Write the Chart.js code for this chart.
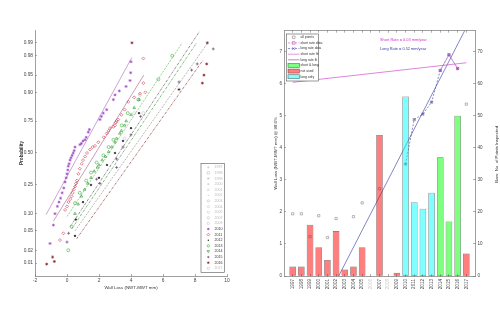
<!DOCTYPE html>
<html><head><meta charset="utf-8">
<script src="https://cdn.jsdelivr.net/npm/chart.js@4.4.1/dist/chart.umd.min.js"></script>
<style>
html,body{margin:0;padding:0;background:#fff;}
#wrap{position:relative;width:500px;height:324px;overflow:hidden;background:#fff}
canvas{position:absolute;top:0}
#cl{left:0}#cr{left:250px}
</style></head><body>
<div id="wrap"><canvas id="cl" width="250" height="324"></canvas><canvas id="cr" width="250" height="324"></canvas></div>
<script>
// ================= DATA: probability plot (left) =================
const probTicks = [0.01,0.02,0.05,0.10,0.25,0.50,0.75,0.90,0.95,0.98,0.99];
const wallTicks = [-2,0,2,4,6,8,10];
const legendYears = ['1997','1998','1999','2000','2001','2002','2003','2004','2005','2007','2009','2010','2011','2012','2013','2014','2015','2016','2017'];

const x2010 = [-1.06,-0.85,-0.75,-0.6,-0.5,-0.4,-0.3,-0.2,-0.12,-0.05,0.0,0.05,0.08,0.13,0.19,0.25,0.32,0.39,0.45,0.5,0.81,0.9,1.0,1.13,1.2,1.33,1.4,2.06,2.15,2.27,2.48,2.9,3.0,3.27,3.69,3.94,3.98,4.0];
const p2010 = [0.028,0.064,0.10,0.13,0.15,0.17,0.20,0.23,0.27,0.30,0.33,0.36,0.39,0.41,0.44,0.46,0.48,0.50,0.52,0.55,0.57,0.58,0.60,0.61,0.63,0.67,0.69,0.76,0.78,0.80,0.82,0.87,0.89,0.905,0.92,0.937,0.955,0.973];
const x2011 = [-0.44,-0.23,-0.12,0.0,0.1,0.2,0.29,0.35,0.42,0.5,0.56,0.62,0.71,0.8,0.92,1.0,1.13,1.25,1.44,1.6,1.75,1.96,2.3,2.48,2.6,2.69,2.9,3.0,3.05,3.1,3.2,3.4,3.6,3.83,4.2,4.56,4.77,4.9,4.77];
const p2011 = [0.033,0.045,0.115,0.13,0.15,0.165,0.18,0.20,0.22,0.24,0.26,0.28,0.33,0.37,0.41,0.44,0.47,0.50,0.53,0.55,0.56,0.59,0.63,0.66,0.68,0.70,0.71,0.72,0.74,0.75,0.76,0.79,0.82,0.86,0.88,0.895,0.93,0.90,0.977];
const x2012 = [0.5,0.55,1.0,1.5,2.0,2.5,3.0,3.5,4.0,4.5,7.0];
const p2012 = [0.04,0.08,0.15,0.25,0.30,0.40,0.50,0.60,0.70,0.80,0.91];
const x2013 = [0.08,0.29,0.5,0.8,1.2,1.5,1.85,2.27,2.6,2.9,3.42,3.8,4.46,5.71,6.58];
const p2013 = [0.02,0.06,0.145,0.20,0.28,0.34,0.42,0.48,0.55,0.61,0.72,0.80,0.87,0.94,0.98];
const x2014 = [0.5,0.7,0.9,1.1,1.3,1.5,1.7,1.9,2.0,2.2,2.4,2.6,2.8,3.0,3.1,3.3,3.4,3.6,3.7,4.0,4.2,4.5];
const p2014 = [0.10,0.14,0.18,0.22,0.26,0.30,0.35,0.38,0.40,0.44,0.47,0.51,0.55,0.59,0.62,0.66,0.68,0.72,0.75,0.79,0.83,0.87];
const x2015 = [0.0,0.1,1.85,2.06,3.1,3.1,3.5,4.0,4.6,7.0,7.79,8.14,9.14];
const p2015 = [0.03,0.045,0.29,0.26,0.38,0.45,0.55,0.65,0.78,0.933,0.96,0.97,0.986];
const x2016 = [-1.27,-0.79,-0.9,4.06,8.46,8.56,8.73,8.77];
const p2016 = [0.0095,0.011,0.014,0.99,0.93,0.95,0.97,0.99];
const x2017 = [3.6,4.2,4.56,4.77,7.0];
const p2017 = [0.62,0.80,0.89,0.80,0.91];

const fitX2010 = [-1.3,4.05],  fitP2010 = [0.097,0.978];
const fitX2011 = [-0.85,4.8],  fitP2011 = [0.075,0.95];
const fitX2012 = [0.2,8.3],    fitP2012 = [0.06,0.995];
const fitX2013 = [0.0,7.2],    fitP2013 = [0.09,0.99];
const fitX2014 = [0.3,8.1],    fitP2014 = [0.055,0.99];
const fitX2015 = [0.5,8.8],    fitP2015 = [0.05,0.99];
const fitX2016 = [0.6,8.5],    fitP2016 = [0.035,0.975];

// ================= DATA: rate chart (right) =================
const years = [1997,1998,1999,2000,2001,2002,2003,2004,2005,2006,2007,2008,2009,2010,2011,2012,2013,2014,2015,2016,2017];
const pointsInspected = [3,3,16,9,5,14,2,3,9,0,44,0,1,56,23,21,26,37,17,50,7];
const barGroup = ['not used','not used','not used','not used','not used','not used','not used','not used','not used','not used','not used','not used','not used','long only','long only','long only','long only','short & long','short & long','short & long','not used'];
const grayLabelYears = [2006,2008];
const allPtYears = [1997,1998,1999,2000,2001,2002,2004,2005,2007,2010,2011,2012,2013,2014,2015,2016,2017];
const allPtLoss  = [1.94,1.94,1.23,1.88,1.20,1.79,1.85,2.28,2.72,3.49,4.88,5.05,5.42,6.41,6.90,6.47,5.36];
const shortYears = [2014,2015,2016];
const shortLoss  = [6.41,6.90,6.47];
const longYears  = [2010,2011,2012,2013,2014,2015,2016];
const longLoss   = [3.49,4.88,5.05,5.42,6.41,6.90,6.47];
const shortFitYears = [1997,2017], shortFitLoss = [6.04,6.65];
const longFitYears  = [2002.3,2017], longFitLoss = [0,7.75];
const lossTicks  = [0,1,2,3,4,5,6,7];
const countTicks = [0,10,20,30,40,50,60,70];

// ================= styles =================
Chart.defaults.font.family = '"Liberation Sans", Arial, Helvetica, sans-serif';
Chart.defaults.color = '#333';
const FONT = '"Liberation Sans", Arial, sans-serif';
const LIGHT = '#c4c4c4';
const yearLook = {
  '1997':{ps:'cross',c:LIGHT},'1998':{ps:'rect',c:LIGHT},'1999':{ps:'star',c:LIGHT},'2000':{ps:'cross',c:LIGHT},
  '2001':{ps:'crossRot',c:LIGHT},'2002':{ps:'dot',c:LIGHT},'2003':{ps:'circle',c:LIGHT},'2004':{ps:'rectRot',c:LIGHT},
  '2005':{ps:'rectRot',c:LIGHT},'2007':{ps:'circle',c:LIGHT},'2009':{ps:'circle',c:LIGHT},
  '2010':{ps:'star',c:'#9a3fc0'},'2011':{ps:'rectRot',c:'#d0364a'},'2012':{ps:'dot',c:'#111'},
  '2013':{ps:'circle',c:'#3cb43c'},'2014':{ps:'triangle',c:'#2f8f2f'},'2015':{ps:'cross',c:'#5a2a5a'},
  '2016':{ps:'star',c:'#801818'},'2017':{ps:'circle',c:LIGHT}
};
const fitLook = {
  '2010':{c:'#a868c0',d:[]},'2011':{c:'#a06088',d:[]},'2012':{c:'#444',d:[2.5,1,0.6,1]},
  '2013':{c:'#44bb44',d:[2,1.2]},'2014':{c:'#2a8a2a',d:[2.5,1,0.6,1]},'2015':{c:'#888',d:[2,1.2]},'2016':{c:'#7a2020',d:[2.5,1,0.6,1]}
};
const groupColor = {'not used':'rgba(255,0,0,0.5)','long only':'rgba(0,255,255,0.5)','short & long':'rgba(0,255,0,0.5)'};

// ================= probit scale =================
function norminv(p){
  const a=[-3.969683028665376e+01,2.209460984245205e+02,-2.759285104469687e+02,1.383577518672690e+02,-3.066479806614716e+01,2.506628277459239e+00];
  const b=[-5.447609879822406e+01,1.615858368580409e+02,-1.556989798598866e+02,6.680131188771972e+01,-1.328068155288572e+01];
  const c=[-7.784894002430293e-03,-3.223964580411365e-01,-2.400758277161838e+00,-2.549732539343734e+00,4.374664141464968e+00,2.938163982698783e+00];
  const d=[7.784695709041462e-03,3.224671290700398e-01,2.445134137142996e+00,3.754408661907416e+00];
  const pl=0.02425, ph=1-pl; let q,r;
  if(p<=0) return -8; if(p>=1) return 8;
  if(p<pl){q=Math.sqrt(-2*Math.log(p));return (((((c[0]*q+c[1])*q+c[2])*q+c[3])*q+c[4])*q+c[5])/((((d[0]*q+d[1])*q+d[2])*q+d[3])*q+1);}
  if(p<=ph){q=p-0.5;r=q*q;return (((((a[0]*r+a[1])*r+a[2])*r+a[3])*r+a[4])*r+a[5])*q/(((((b[0]*r+b[1])*r+b[2])*r+b[3])*r+b[4])*r+1);}
  q=Math.sqrt(-2*Math.log(1-p));return -(((((c[0]*q+c[1])*q+c[2])*q+c[3])*q+c[4])*q+c[5])/((((d[0]*q+d[1])*q+d[2])*q+d[3])*q+1);
}
function normcdf(z){
  const t=1/(1+0.2316419*Math.abs(z)); const dd=0.3989423*Math.exp(-z*z/2);
  const q=dd*t*(0.3193815+t*(-0.3565638+t*(1.781478+t*(-1.821256+t*1.330274))));
  return z>0?1-q:q;
}
class ProbitScale extends Chart.Scale {
  determineDataLimits(){ this.min=this.options.min; this.max=this.options.max; }
  buildTicks(){ return probTicks.map(v=>({value:v})); }
  getLabelForValue(v){ return String(v); }
  configure(){ super.configure(); this._zMin=norminv(this.min); this._zRange=norminv(this.max)-this._zMin; }
  getPixelForValue(v){ return this.getPixelForDecimal((norminv(v)-this._zMin)/this._zRange); }
  getValueForPixel(px){ return normcdf(this._zMin+this.getDecimalForPixel(px)*this._zRange); }
}
ProbitScale.id='probit'; ProbitScale.defaults={};
Chart.register(ProbitScale);

// ================= marker helper =================
function drawMarker(ctx, ps, x, y, r, color){
  ctx.save(); ctx.strokeStyle=color; ctx.fillStyle=color; ctx.lineWidth=0.6; ctx.beginPath();
  if(ps==='circle'){ctx.arc(x,y,r,0,Math.PI*2);ctx.stroke();}
  else if(ps==='dot'){ctx.arc(x,y,r*0.55,0,Math.PI*2);ctx.fill();}
  else if(ps==='rect'){ctx.rect(x-r,y-r,2*r,2*r);ctx.stroke();}
  else if(ps==='rectRot'){ctx.moveTo(x,y-r*1.2);ctx.lineTo(x+r*1.2,y);ctx.lineTo(x,y+r*1.2);ctx.lineTo(x-r*1.2,y);ctx.closePath();ctx.stroke();}
  else if(ps==='cross'){ctx.moveTo(x-r,y);ctx.lineTo(x+r,y);ctx.moveTo(x,y-r);ctx.lineTo(x,y+r);ctx.stroke();}
  else if(ps==='crossRot'){ctx.moveTo(x-r,y-r);ctx.lineTo(x+r,y+r);ctx.moveTo(x-r,y+r);ctx.lineTo(x+r,y-r);ctx.stroke();}
  else if(ps==='star'){ctx.moveTo(x-r,y);ctx.lineTo(x+r,y);ctx.moveTo(x,y-r);ctx.lineTo(x,y+r);ctx.moveTo(x-r*.7,y-r*.7);ctx.lineTo(x+r*.7,y+r*.7);ctx.moveTo(x-r*.7,y+r*.7);ctx.lineTo(x+r*.7,y-r*.7);ctx.stroke();}
  else if(ps==='triangle'){ctx.moveTo(x-r,y-r*.7);ctx.lineTo(x+r,y-r*.7);ctx.lineTo(x,y+r);ctx.closePath();ctx.stroke();}
  ctx.restore();
}
function cjsStyle(ps){ return ps==='dot'?'circle':ps; }

// ================= left chart =================
const leftSeries = [
  ['2017',x2017,p2017],['2015',x2015,p2015],['2012',x2012,p2012],['2014',x2014,p2014],
  ['2013',x2013,p2013],['2011',x2011,p2011],['2010',x2010,p2010],['2016',x2016,p2016]
];
const fitSeries = [
  ['2010',fitX2010,fitP2010],['2011',fitX2011,fitP2011],['2012',fitX2012,fitP2012],['2013',fitX2013,fitP2013],
  ['2014',fitX2014,fitP2014],['2015',fitX2015,fitP2015],['2016',fitX2016,fitP2016]
];
const leftDatasets = [];
fitSeries.forEach(([yr,xs,ps])=>{
  const f=fitLook[yr];
  leftDatasets.push({label:'fit '+yr,data:xs.map((v,i)=>({x:v,y:ps[i]})),showLine:true,borderColor:f.c,borderWidth:0.6,borderDash:f.d,pointRadius:0,fill:false,order:5});
});
leftSeries.forEach(([yr,xs,ps])=>{
  const L=yearLook[yr];
  leftDatasets.push({label:yr,data:xs.map((v,i)=>({x:v,y:ps[i]})),showLine:false,pointStyle:cjsStyle(L.ps),
    pointRadius:L.ps==='dot'?0.8:1.5,borderColor:L.c,backgroundColor:L.ps==='dot'?L.c:'rgba(0,0,0,0)',pointBorderWidth:0.6,order:2});
});
const leftLegendPlugin = {
  id:'leftLegend',
  afterDraw(chart){
    const ctx=chart.ctx, a=chart.chartArea;
    const bx=a.right-26, by=a.bottom-112.7, bw=23.3, bh=109;
    ctx.save(); ctx.fillStyle='#fff'; ctx.fillRect(bx,by,bw,bh);
    ctx.strokeStyle='#555'; ctx.lineWidth=0.6; ctx.strokeRect(bx,by,bw,bh);
    ctx.font='3.6px '+FONT; ctx.textBaseline='middle'; ctx.textAlign='left';
    legendYears.forEach((yr,i)=>{
      const cy=by+4+i*5.61, L=yearLook[yr];
      drawMarker(ctx,L.ps,bx+7.3,cy,1.2,L.c);
      ctx.fillStyle=(L.c===LIGHT)?'#b8b8b8':'#333';
      ctx.fillText(yr,bx+13.5,cy);
    });
    ctx.restore();
  }
};
new Chart(document.getElementById('cl'),{
  type:'scatter',
  data:{datasets:leftDatasets},
  options:{
    responsive:false, animation:false, devicePixelRatio:1, events:[],
    layout:{padding:{left:18.4,top:30,right:23,bottom:33.7}},
    plugins:{legend:{display:false},tooltip:{enabled:false}},
    scales:{
      x:{type:'linear',min:-2,max:10,
        afterBuildTicks:s=>{s.ticks=wallTicks.map(v=>({value:v}));},
        ticks:{font:{size:4.8},color:'#444',padding:3.5,callback:v=>String(v)},
        grid:{drawOnChartArea:false,tickLength:-2,color:'#777',lineWidth:0.6},
        border:{display:true,color:'#777',width:0.7},
        title:{display:true,text:'Wall Loss (NWT-MWT mm)',font:{size:4.4},color:'#333',padding:0},
        afterFit:s=>{s.height=14.3;}},
      y:{type:'probit',min:0.0047,max:0.9953,
        ticks:{font:{size:4.8},color:'#444',padding:4,callback:v=>v.toFixed(2)},
        grid:{drawOnChartArea:false,tickLength:-2,color:'#777',lineWidth:0.6},
        border:{display:true,color:'#777',width:0.7},
        title:{display:true,text:'Probability',font:{size:4.7,weight:'bold'},color:'#333',padding:0},
        afterFit:s=>{s.width=16.6;}}
    }
  },
  plugins:[leftLegendPlugin]
});

// ================= right chart =================
const barIdx = years.map((y,i)=>i).filter(i=>pointsInspected[i]>0);
const rightDatasets = [
  {type:'bar',label:'bars',data:barIdx.map(i=>({x:years[i],y:pointsInspected[i]})),
   backgroundColor:barIdx.map(i=>groupColor[barGroup[i]]),borderColor:'rgba(60,60,60,0.75)',borderWidth:0.6,
   borderSkipped:false,categoryPercentage:1,barPercentage:0.77,xAxisID:'x',yAxisID:'y2',order:1},
  {type:'scatter',label:'all points',data:allPtYears.map((y,i)=>({x:y,y:allPtLoss[i]})),showLine:false,
   pointStyle:'rect',pointRadius:1.6,borderColor:'#8a8a8a',backgroundColor:'rgba(0,0,0,0)',pointBorderWidth:0.6,xAxisID:'x',yAxisID:'y',order:4},
  {type:'scatter',label:'short rate data',data:shortYears.map((y,i)=>({x:y,y:shortLoss[i]})),showLine:true,
   borderColor:'#cc44cc',borderWidth:0.6,borderDash:[2,1.5],pointStyle:'rect',pointRadius:1.5,backgroundColor:'rgba(0,0,0,0)',pointBorderWidth:0.6,xAxisID:'x',yAxisID:'y',order:3},
  {type:'scatter',label:'long rate data',data:longYears.map((y,i)=>({x:y,y:longLoss[i]})),showLine:true,
   borderColor:'#4040a8',borderWidth:0.6,borderDash:[2,1.5],pointStyle:'crossRot',pointRadius:1.4,backgroundColor:'rgba(0,0,0,0)',pointBorderWidth:0.6,xAxisID:'x',yAxisID:'y',order:3},
  {type:'scatter',label:'short rate fit',data:shortFitYears.map((y,i)=>({x:y,y:shortFitLoss[i]})),showLine:true,
   borderColor:'#d050d0',borderWidth:0.7,pointRadius:0,xAxisID:'x',yAxisID:'y',order:3},
  {type:'scatter',label:'long rate fit',data:longFitYears.map((y,i)=>({x:y,y:longFitLoss[i]})),showLine:true,
   borderColor:'#5050b0',borderWidth:0.7,pointRadius:0,xAxisID:'x',yAxisID:'y',order:3}
];
const rightLegendItems = [
  {t:'all points',kind:'marker',ps:'rect',c:'#8a8a8a'},
  {t:'short rate data',kind:'dline',ps:'rect',c:'#cc44cc'},
  {t:'long rate data',kind:'dline',ps:'crossRot',c:'#4040a8'},
  {t:'short rate fit',kind:'line',c:'#d050d0'},
  {t:'long rate fit',kind:'line',c:'#5050b0'},
  {t:'short & long',kind:'patch',c:groupColor['short & long']},
  {t:'not used',kind:'patch',c:groupColor['not used']},
  {t:'long only',kind:'patch',c:groupColor['long only']}
];
const rightDecorPlugin = {
  id:'rightDecor',
  afterDraw(chart){
    const ctx=chart.ctx, a=chart.chartArea;
    ctx.save();
    // legend
    const bx=a.left+2.5, by=a.top+3.3, bw=32, bh=47;
    ctx.fillStyle='#fff'; ctx.fillRect(bx,by,bw,bh);
    ctx.strokeStyle='#555'; ctx.lineWidth=0.6; ctx.strokeRect(bx,by,bw,bh);
    ctx.font='3.4px '+FONT; ctx.textBaseline='middle'; ctx.textAlign='left';
    rightLegendItems.forEach((it,i)=>{
      const cy=by+3.3+i*5.63, x0=bx+1.5, x1=bx+13;
      if(it.kind==='line'||it.kind==='dline'){
        ctx.save(); ctx.strokeStyle=it.c; ctx.lineWidth=0.6; ctx.setLineDash(it.kind==='dline'?[2,1.5]:[]);
        ctx.beginPath(); ctx.moveTo(x0,cy); ctx.lineTo(x1,cy); ctx.stroke(); ctx.restore();
      }
      if(it.kind==='marker'||it.kind==='dline') drawMarker(ctx,it.ps,bx+7.2,cy,1.3,it.c);
      if(it.kind==='patch'){
        ctx.fillStyle=it.c; ctx.fillRect(x0,cy-2,x1-x0,4);
        ctx.strokeStyle='rgba(60,60,60,0.75)'; ctx.lineWidth=0.6; ctx.strokeRect(x0,cy-2,x1-x0,4);
      }
      ctx.fillStyle='#333'; ctx.fillText(it.t,bx+14,cy);
    });
    // annotations
    ctx.font='3.9px '+FONT;
    ctx.fillStyle='#cc33cc'; ctx.fillText('Short Rate = 0.03 mm/year',a.left+96,a.top+9.3);
    ctx.fillStyle='#3a3aaa'; ctx.fillText('Long Rate = 0.52 mm/year',a.left+96,a.top+18.6);
    // right axis title
    ctx.save(); ctx.translate(246.7,(a.top+a.bottom)/2+1); ctx.rotate(-Math.PI/2);
    ctx.textAlign='center'; ctx.fillStyle='#333'; ctx.font='4.4px '+FONT;
    ctx.fillText('Bars: No. of Points Inspected',0,0); ctx.restore();
    ctx.restore();
  }
};
const yearTickSet = s=>{s.ticks=years.map(v=>({value:v}));};
new Chart(document.getElementById('cr'),{
  type:'scatter',
  data:{datasets:rightDatasets},
  options:{
    responsive:false, animation:false, devicePixelRatio:1, events:[],
    layout:{padding:{left:22.7,top:30.7,right:0,bottom:18}},
    plugins:{legend:{display:false},tooltip:{enabled:false}},
    scales:{
      x:{type:'linear',position:'bottom',min:1996,max:2018,offset:false,afterBuildTicks:yearTickSet,
        ticks:{autoSkip:false,minRotation:90,maxRotation:90,font:{size:4.6},padding:5,
          color:c=>grayLabelYears.includes(c.tick.value)?'#c8c8c8':'#444',callback:v=>String(v)},
        grid:{offset:false,drawOnChartArea:false,tickLength:-2,color:'#777',lineWidth:0.6},
        border:{display:true,color:'#777',width:0.7},afterFit:s=>{s.height=30;}},
      x2:{type:'linear',position:'top',min:1996,max:2018,offset:false,afterBuildTicks:yearTickSet,
        ticks:{display:false},
        grid:{offset:false,drawOnChartArea:false,tickLength:-2,color:'#777',lineWidth:0.6},
        border:{display:true,color:'#777',width:0.7},afterFit:s=>{s.height=0;}},
      y:{type:'linear',position:'left',min:0,max:7.65,afterBuildTicks:s=>{s.ticks=lossTicks.map(v=>({value:v}));},
        ticks:{font:{size:4.6},padding:4,color:'#444',callback:v=>String(v)},
        grid:{drawOnChartArea:false,tickLength:-2,color:'#777',lineWidth:0.6},
        border:{display:true,color:'#777',width:0.7},
        title:{display:true,text:'Wall Loss (NWT-MWT mm) @ 98.6%',font:{size:4.4},color:'#333',padding:0},
        afterFit:s=>{s.width=11.3;}},
      y2:{type:'linear',position:'right',min:0,max:76.5,afterBuildTicks:s=>{s.ticks=countTicks.map(v=>({value:v}));},
        ticks:{font:{size:4.6},padding:4.5,color:'#444',callback:v=>String(v)},
        grid:{drawOnChartArea:false,tickLength:-2,color:'#777',lineWidth:0.6},
        border:{display:true,color:'#777',width:0.7},afterFit:s=>{s.width=25;}}
    }
  },
  plugins:[rightDecorPlugin]
});
</script></body></html>
